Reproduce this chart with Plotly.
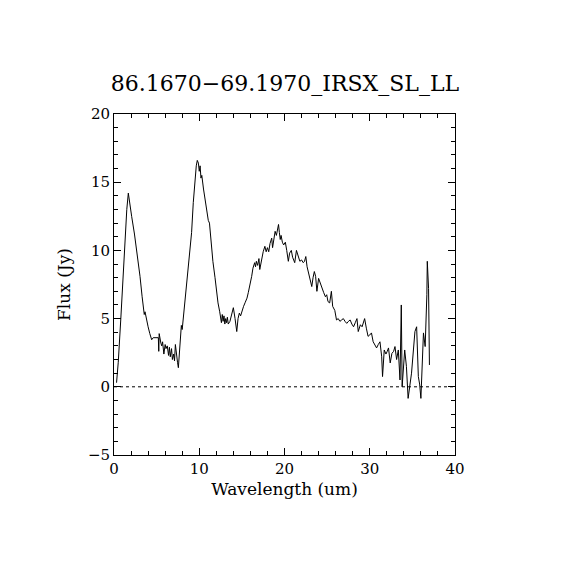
import plotly.graph_objects as go

# spectrum
wavelength = [0.3, 0.5, 0.8, 1.1, 1.3, 1.5, 1.68, 1.8, 2.07, 2.4, 2.66, 3.05, 3.3, 3.44, 3.55, 3.64, 3.8, 4.0, 4.2, 4.42,
              4.6, 5.0, 5.2, 5.25, 5.3, 5.5, 5.6, 5.7, 5.85, 6.0, 6.1, 6.25, 6.4, 6.5, 6.6, 6.75, 6.85, 7.0, 7.1, 7.2,
              7.35, 7.45, 7.55, 7.7, 7.8, 7.9, 8.0, 8.2, 8.5, 8.8, 9.1, 9.3, 9.5, 9.65, 9.77, 9.9, 10.0, 10.1, 10.2, 10.3,
              10.5, 10.7, 10.9, 11.06, 11.2, 11.4, 11.6, 11.85, 12.0, 12.2, 12.4, 12.5, 12.6, 12.7, 12.8, 12.9, 13.0, 13.1, 13.2, 13.3,
              13.4, 13.6, 13.8, 14.0, 14.2, 14.4, 14.55, 14.7, 14.85, 15.0, 15.2, 15.4, 15.6, 15.75, 15.95, 16.15, 16.3, 16.5, 16.6, 16.7,
              16.85, 17.0, 17.1, 17.3, 17.5, 17.7, 17.85, 18.0, 18.15, 18.3, 18.5, 18.6, 18.75, 18.9, 19.05, 19.2, 19.3, 19.4, 19.5, 19.6,
              19.75, 19.9, 20.1, 20.26, 20.45, 20.6, 20.8, 20.95, 21.2, 21.4, 21.6, 21.8, 22.0, 22.2, 22.35, 22.5, 22.65, 22.8, 23.0, 23.2,
              23.35, 23.5, 23.65, 23.8, 24.0, 24.2, 24.4, 24.6, 24.8, 24.95, 25.1, 25.3, 25.5, 25.65, 25.9, 26.1, 26.3, 26.5, 26.7, 26.9,
              27.1, 27.3, 27.5, 27.7, 27.9, 28.1, 28.3, 28.5, 28.65, 28.9, 29.1, 29.2, 29.4, 29.6, 29.8, 30.0, 30.2, 30.4, 30.6, 30.8,
              31.0, 31.2, 31.4, 31.5, 31.7, 31.9, 32.05, 32.2, 32.4, 32.6, 32.8, 32.96, 33.15, 33.35, 33.55, 33.7, 33.8, 34.1, 34.3, 34.5,
              34.9, 35.1, 35.3, 35.5, 35.7, 35.85, 36.0, 36.3, 36.5, 36.7, 36.75, 36.9, 37.0]
flux = [0.3, 1.8, 5.0, 8.8, 11.3, 13.0, 14.2, 13.6, 12.5, 11.2, 10.0, 8.1, 6.6, 5.9, 5.3, 5.5, 4.9, 4.4, 3.9, 3.45,
        3.6, 3.6, 3.6, 2.6, 3.9, 3.2, 3.0, 3.3, 2.4, 3.1, 2.8, 3.0, 2.3, 2.9, 2.2, 2.8, 2.0, 2.4, 1.9, 3.1,
        2.0, 1.8, 1.4, 2.6, 3.3, 4.5, 4.2, 5.5, 7.1, 9.0, 11.3, 13.5, 15.4, 16.2, 16.6, 16.4, 15.8, 16.2, 15.3, 15.5,
        14.5, 13.7, 12.9, 12.2, 12.0, 10.5, 9.2, 8.0, 7.0, 6.15, 5.5, 5.1, 4.7, 5.3, 4.8, 5.2, 4.6, 5.0, 4.7, 5.1,
        4.6, 4.8, 5.3, 5.8, 5.0, 4.05, 5.0, 5.4, 5.2, 5.6, 5.9, 6.2, 6.5, 6.9, 7.4, 8.1, 8.7, 9.1, 8.8, 9.2,
        8.9, 9.4, 8.6, 9.4, 9.9, 10.3, 9.9, 10.2, 9.9, 10.5, 10.9, 10.2, 10.8, 11.4, 11.1, 11.6, 11.9, 11.3, 10.8, 11.1,
        10.6, 10.4, 10.6, 10.0, 9.2, 9.8, 10.0, 9.5, 9.1, 10.0, 9.6, 9.2, 9.3, 9.1, 9.2, 9.55, 8.8, 8.35, 7.9, 7.35,
        8.0, 8.45, 8.1, 7.0, 7.95, 7.6, 7.1, 6.9, 6.6, 6.75, 6.25, 6.15, 7.0, 5.9, 5.6, 4.9, 5.0, 4.8, 4.9, 5.0,
        4.8, 4.65, 4.8, 4.9, 4.6, 4.4, 4.7, 5.0, 4.05, 4.55, 4.4, 4.6, 5.0, 4.3, 3.7, 3.8, 3.95, 3.3, 3.1, 2.85,
        3.1, 3.3, 2.2, 0.75, 2.7, 2.4, 2.6, 2.85, 1.75, 2.45, 2.6, 2.95, 2.0, 2.7, 0.5, 6.0, 0.0, 2.7, 1.5, -0.85,
        1.0, 2.6, 4.05, 4.4, 0.75, 0.2, -0.85, 3.95, 2.95, 6.75, 9.2, 7.2, 1.6]

font = "DejaVu Serif"

fig = go.Figure()
fig.add_trace(go.Scatter(x=wavelength, y=flux, mode="lines",
                         line=dict(color="black", width=1), showlegend=False))
fig.add_hline(y=0, line=dict(color="black", width=1, dash="dot"))

axis = dict(showline=True, linecolor="black", linewidth=1, mirror="ticks",
            ticks="inside", ticklen=7, tickcolor="black", showgrid=False, zeroline=False,
            tickfont=dict(family=font, size=15, color="black"))

# page body adds ~8px offset, so margins are shifted to keep the plot box at 114..455
fig.update_layout(
    width=570, height=570,
    margin=dict(l=106, r=123, t=106, b=123),
    paper_bgcolor="white", plot_bgcolor="white",
    title=dict(text="86.1670\u221269.1970_IRSX_SL_LL", x=(285 - 8) / 570, xanchor="center",
               y=1 - 75 / 570, yanchor="middle",
               font=dict(family=font, size=22, color="black")),
    xaxis=dict(axis, range=[0, 40], dtick=10,
               minor=dict(dtick=2, ticks="inside", ticklen=4, tickcolor="black"),
               title=dict(text="Wavelength (um)", font=dict(family=font, size=17, color="black"), standoff=6)),
    yaxis=dict(axis, range=[-5, 20], dtick=5,
               minor=dict(dtick=1, ticks="inside", ticklen=4, tickcolor="black"),
               title=dict(text="Flux (Jy)", font=dict(family=font, size=17, color="black"), standoff=12)),
)

fig.write_html("out.html")
